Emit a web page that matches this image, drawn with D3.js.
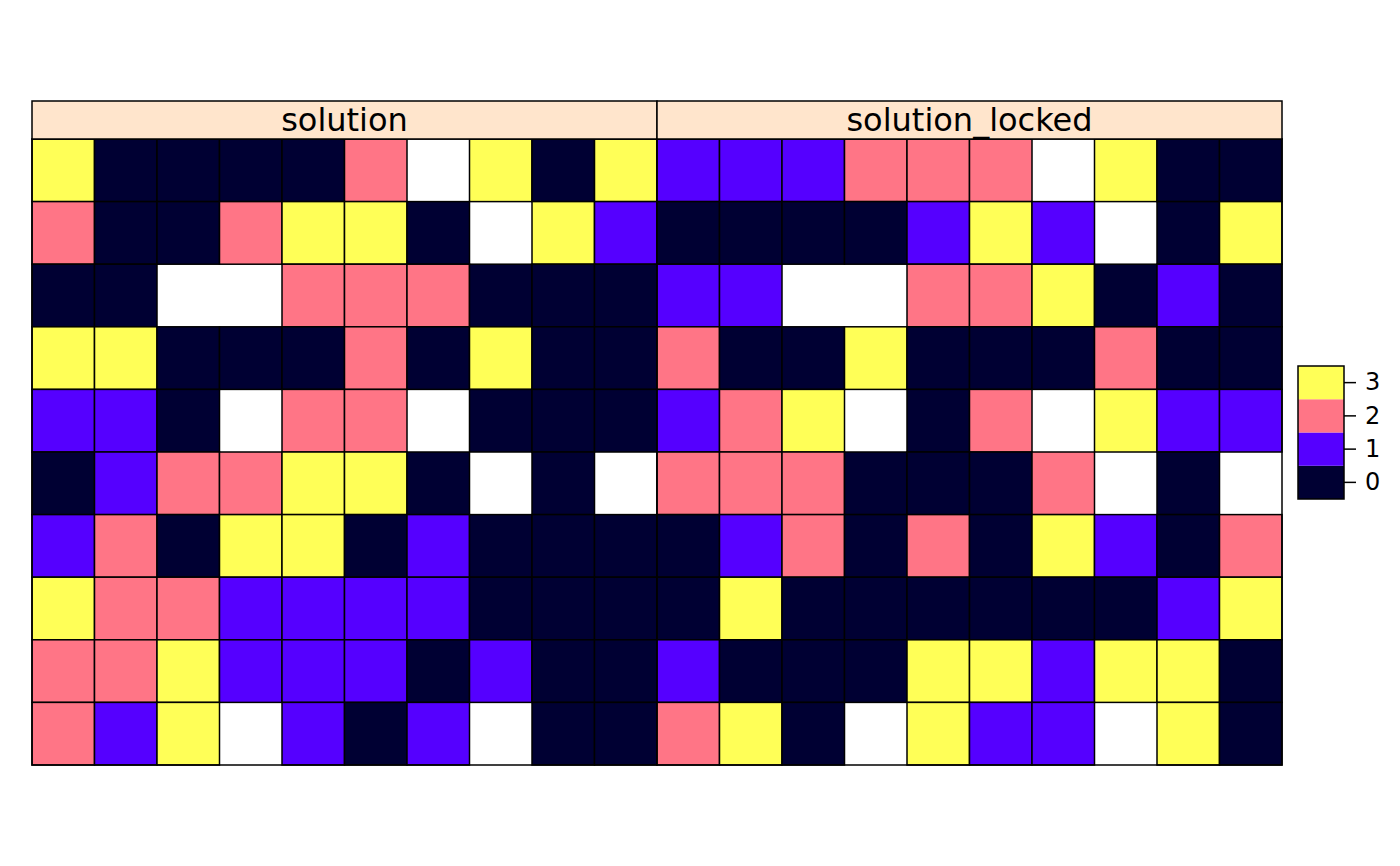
<!DOCTYPE html>
<html>
<head>
<meta charset="utf-8">
<script src="https://cdn.jsdelivr.net/npm/d3@7"></script>
<style>
  body { margin: 0; background: #fff; }
  svg { display: block; font-family: "DejaVu Sans", sans-serif; }
</style>
</head>
<body>
<div id="chart"></div>
<script>
var width = 1400, height = 866;

// values per cell, row by row from the top; null = NA (not drawn)
var panels = ["solution", "solution_locked"];
var levels = [0, 1, 2, 3];
var levelColors = ["#000033", "#5500FF", "#FF7586", "#FFFF57"];

var solution = [
  [3, 0, 0, 0, 0, 2, null, 3, 0, 3],
  [2, 0, 0, 2, 3, 3, 0, null, 3, 1],
  [0, 0, null, null, 2, 2, 2, 0, 0, 0],
  [3, 3, 0, 0, 0, 2, 0, 3, 0, 0],
  [1, 1, 0, null, 2, 2, null, 0, 0, 0],
  [0, 1, 2, 2, 3, 3, 0, null, 0, null],
  [1, 2, 0, 3, 3, 0, 1, 0, 0, 0],
  [3, 2, 2, 1, 1, 1, 1, 0, 0, 0],
  [2, 2, 3, 1, 1, 1, 0, 1, 0, 0],
  [2, 1, 3, null, 1, 0, 1, null, 0, 0]
];

var solution_locked = [
  [1, 1, 1, 2, 2, 2, null, 3, 0, 0],
  [0, 0, 0, 0, 1, 3, 1, null, 0, 3],
  [1, 1, null, null, 2, 2, 3, 0, 1, 0],
  [2, 0, 0, 3, 0, 0, 0, 2, 0, 0],
  [1, 2, 3, null, 0, 2, null, 3, 1, 1],
  [2, 2, 2, 0, 0, 0, 2, null, 0, null],
  [0, 1, 2, 0, 2, 0, 3, 1, 0, 2],
  [0, 3, 0, 0, 0, 0, 0, 0, 1, 3],
  [1, 0, 0, 0, 3, 3, 1, 3, 3, 0],
  [2, 3, 0, null, 3, 1, 1, null, 3, 0]
];

var panelData = [solution, solution_locked];

var svg = d3.select('#chart').append('svg')
    .attr('width', width)
    .attr('height', height);

var left = 32, right = 1282, stripTop = 101, gridTop = 139, bottom = 765;

var panelX = d3.scaleBand().domain(panels).range([left, right]);
var rowY = d3.scaleBand().domain(d3.range(10)).range([gridTop, bottom]);
var color = d3.scaleOrdinal().domain(levels).range(levelColors);

panels.forEach(function(name, p){
    var x0 = panelX(name);
    var colX = d3.scaleBand().domain(d3.range(10)).range([x0, x0 + panelX.bandwidth()]);
    var g = svg.append('g');

    var cells = [];
    panelData[p].forEach(function(row, r){
        row.forEach(function(v, c){
            if (v !== null) cells.push({r: r, c: c, v: v});
        });
    });

    g.selectAll('rect.cell').data(cells).enter().append('rect')
        .attr('class', 'cell')
        .attr('x', function(d){ return colX(d.c) })
        .attr('y', function(d){ return rowY(d.r) })
        .attr('width', colX.bandwidth())
        .attr('height', rowY.bandwidth())
        .attr('fill', function(d){ return color(d.v) })
        .attr('stroke', '#000')
        .attr('stroke-width', 1.5);

    // panel frame
    g.append('rect')
        .attr('x', x0).attr('y', gridTop)
        .attr('width', panelX.bandwidth()).attr('height', bottom - gridTop)
        .attr('fill', 'none')
        .attr('stroke', '#000').attr('stroke-width', 1.5);

    // strip (drawn after the cells so the underscore stays visible)
    g.append('rect')
        .attr('x', x0).attr('y', stripTop)
        .attr('width', panelX.bandwidth()).attr('height', gridTop - stripTop)
        .attr('fill', '#FFE5CC')
        .attr('stroke', '#000').attr('stroke-width', 1.5);
    g.append('text')
        .attr('x', x0 + panelX.bandwidth() / 2)
        .attr('y', (stripTop + gridTop) / 2)
        .attr('dy', '0.33em')
        .attr('text-anchor', 'middle')
        .attr('font-size', 32)
        .text(name);
});

/* colour key */
var keyX = 1298, keyW = 46;
var keyY = d3.scaleBand().domain(levels.slice().reverse()).range([366, 499]);

svg.append('g').selectAll('rect').data(levels).enter().append('rect')
    .attr('x', keyX)
    .attr('y', function(d){ return keyY(d) })
    .attr('width', keyW)
    .attr('height', keyY.bandwidth())
    .attr('fill', function(d){ return color(d) });

svg.append('rect')
    .attr('x', keyX).attr('y', 366)
    .attr('width', keyW).attr('height', 133)
    .attr('fill', 'none')
    .attr('stroke', '#000').attr('stroke-width', 1.5);

var keyAxis = svg.append('g')
    .attr('transform', 'translate(' + (keyX + keyW) + ',0)')
    .call(d3.axisRight(keyY).tickSize(12).tickPadding(9));
keyAxis.select('.domain').remove();
keyAxis.selectAll('line').attr('stroke', '#000').attr('stroke-width', 1.5);
keyAxis.selectAll('text')
    .attr('font-size', 24)
    .attr('font-family', '"DejaVu Sans", sans-serif')
    .attr('fill', '#000');
</script>
</body>
</html>
